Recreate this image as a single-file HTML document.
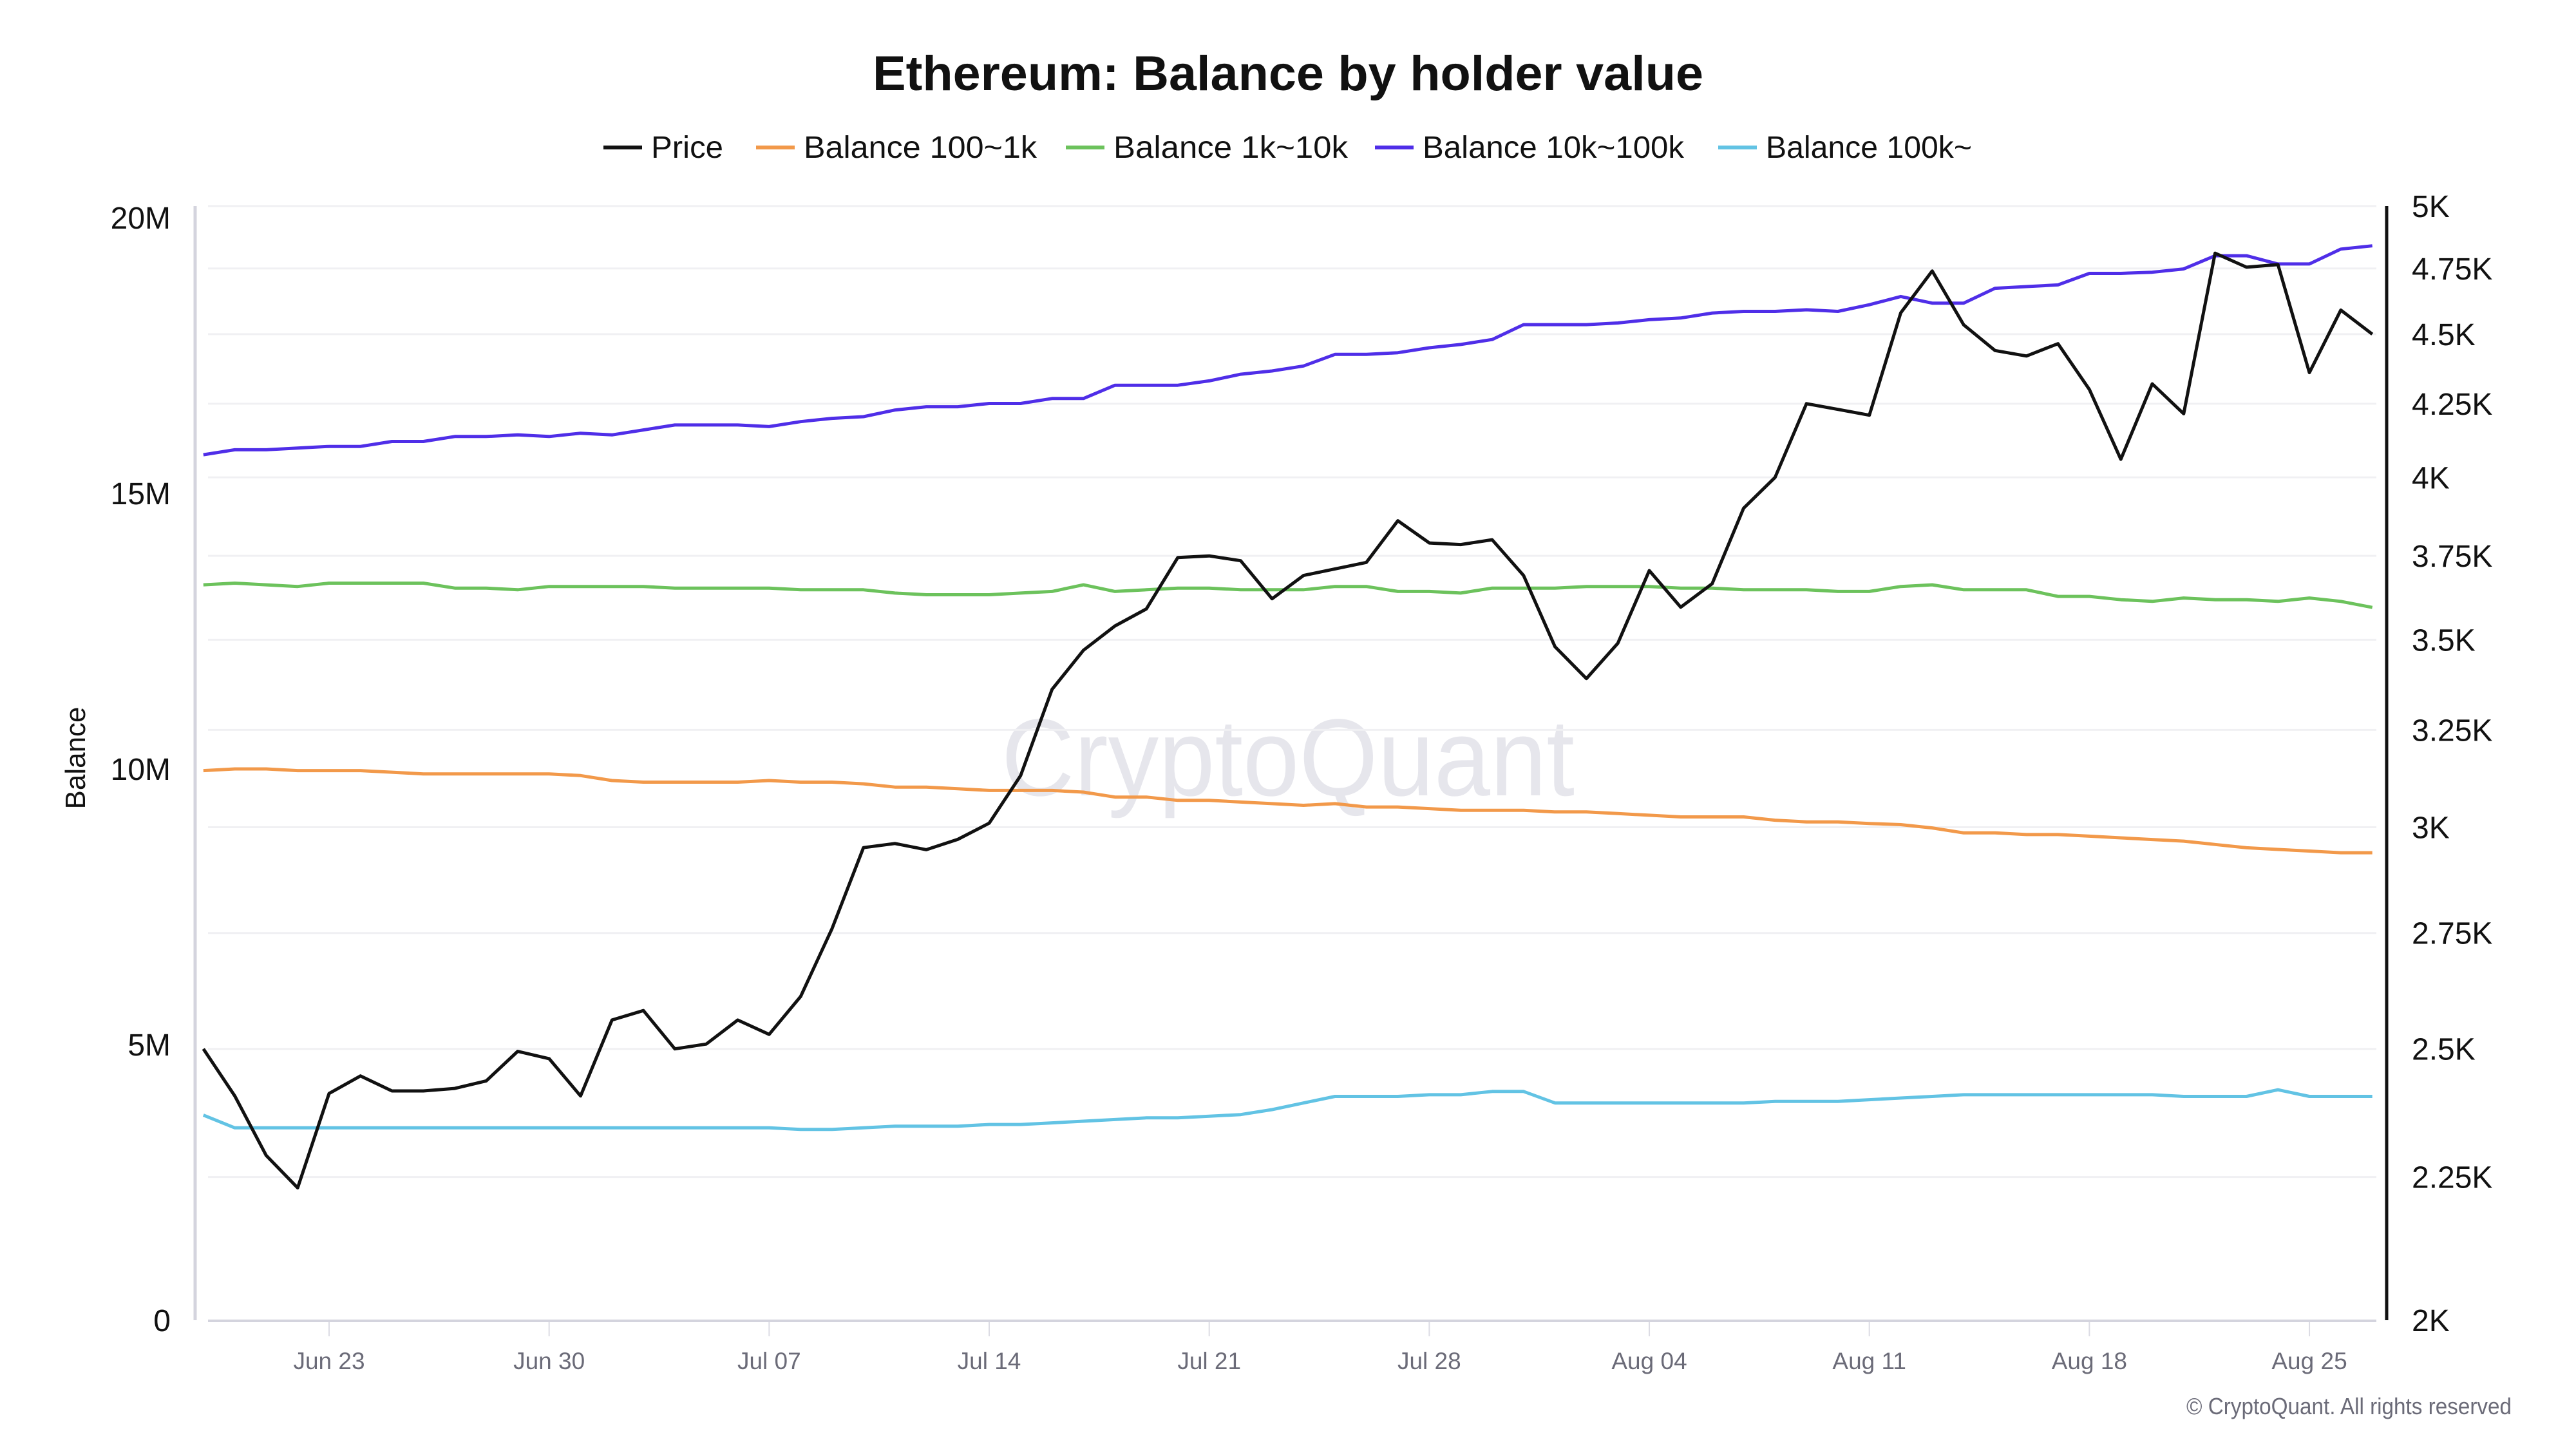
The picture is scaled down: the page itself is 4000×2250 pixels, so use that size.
<!DOCTYPE html>
<html><head><meta charset="utf-8"><title>Ethereum: Balance by holder value</title>
<style>
html,body{margin:0;padding:0;background:#fff;}
svg{display:block;font-family:"Liberation Sans",sans-serif;}
</style></head>
<body>
<svg id="chart" width="4000" height="2250" viewBox="0 0 4000 2250" xmlns="http://www.w3.org/2000/svg">
  <rect width="4000" height="2250" fill="#fff"/>
  <text x="2000" y="140" text-anchor="middle" font-size="76" font-weight="bold" fill="#111" textLength="1290" lengthAdjust="spacingAndGlyphs">Ethereum: Balance by holder value</text>
  <g id="legend"></g>
  <text x="2000" y="1235" text-anchor="middle" font-size="170" fill="#e6e6ec" textLength="890" lengthAdjust="spacingAndGlyphs">CryptoQuant</text>
  <g id="grid"></g>
  <g id="axes"></g>
  <g id="series"></g>
  <text transform="translate(132,1177) rotate(-90)" text-anchor="middle" font-size="44" fill="#111">Balance</text>
  <text x="3900" y="2196" text-anchor="end" font-size="36" fill="#6b6b78" textLength="505" lengthAdjust="spacingAndGlyphs">© CryptoQuant. All rights reserved</text>
</svg>
<script>
const dayCount = 70; // Jun 19 .. Aug 27
const xTickLabels = ["Jun 23","Jun 30","Jul 07","Jul 14","Jul 21","Jul 28","Aug 04","Aug 11","Aug 18","Aug 25"];
const xTickDays = [4,11,18,25,32,39,46,53,60,67];
const leftTickValues = [0,5,10,15,20];
const leftTickLabels = ["0","5M","10M","15M","20M"];
const rightTickValues = [2000,2250,2500,2750,3000,3250,3500,3750,4000,4250,4500,4750,5000];
const rightTickLabels = ["2K","2.25K","2.5K","2.75K","3K","3.25K","3.5K","3.75K","4K","4.25K","4.5K","4.75K","5K"];

const price = [2500,2405,2290,2230,2410,2445,2415,2415,2420,2435,
  2495,2480,2405,2560,2580,2500,2510,2560,2530,2610,
  2760,2950,2960,2945,2970,3010,3130,3360,3470,3540,
  3590,3745,3750,3735,3620,3690,3710,3730,3860,3790,
  3785,3800,3690,3480,3390,3490,3705,3595,3665,3900,
  4000,4250,4230,4210,4580,4740,4535,4440,4420,4465,
  4300,4060,4320,4215,4810,4755,4765,4360,4590,4500];
const bal100to1k = [9.97,10.0,10.0,9.97,9.97,9.97,9.94,9.91,9.91,9.91,
  9.91,9.91,9.88,9.79,9.76,9.76,9.76,9.76,9.79,9.76,
  9.76,9.73,9.67,9.67,9.64,9.61,9.61,9.61,9.58,9.49,
  9.49,9.43,9.43,9.40,9.37,9.34,9.37,9.31,9.31,9.28,
  9.25,9.25,9.25,9.22,9.22,9.19,9.16,9.13,9.13,9.13,
  9.07,9.04,9.04,9.01,8.99,8.93,8.84,8.84,8.81,8.81,
  8.78,8.75,8.72,8.69,8.63,8.57,8.54,8.51,8.48,8.48];
const bal1kto10k = [13.34,13.37,13.34,13.31,13.37,13.37,13.37,13.37,13.28,13.28,
  13.25,13.31,13.31,13.31,13.31,13.28,13.28,13.28,13.28,13.25,
  13.25,13.25,13.19,13.16,13.16,13.16,13.19,13.22,13.34,13.22,
  13.25,13.28,13.28,13.25,13.25,13.25,13.31,13.31,13.22,13.22,
  13.19,13.28,13.28,13.28,13.31,13.31,13.31,13.28,13.28,13.25,
  13.25,13.25,13.22,13.22,13.31,13.34,13.25,13.25,13.25,13.13,
  13.13,13.07,13.04,13.10,13.07,13.07,13.04,13.10,13.04,12.93];
const bal10kto100k = [15.70,15.79,15.79,15.82,15.85,15.85,15.94,15.94,16.03,16.03,
  16.06,16.03,16.09,16.06,16.15,16.24,16.24,16.24,16.21,16.30,
  16.36,16.39,16.51,16.57,16.57,16.63,16.63,16.72,16.72,16.96,
  16.96,16.96,17.04,17.16,17.22,17.31,17.52,17.52,17.55,17.64,
  17.70,17.79,18.06,18.06,18.06,18.09,18.15,18.18,18.27,18.30,
  18.30,18.33,18.30,18.42,18.57,18.45,18.45,18.72,18.75,18.78,
  18.99,18.99,19.01,19.07,19.31,19.31,19.16,19.16,19.43,19.49];
const bal100kPlus = [3.72,3.49,3.49,3.49,3.49,3.49,3.49,3.49,3.49,3.49,
  3.49,3.49,3.49,3.49,3.49,3.49,3.49,3.49,3.49,3.46,
  3.46,3.49,3.52,3.52,3.52,3.55,3.55,3.58,3.61,3.64,
  3.67,3.67,3.70,3.73,3.82,3.94,4.06,4.06,4.06,4.09,
  4.09,4.15,4.15,3.94,3.94,3.94,3.94,3.94,3.94,3.94,
  3.97,3.97,3.97,4.00,4.03,4.06,4.09,4.09,4.09,4.09,
  4.09,4.09,4.09,4.06,4.06,4.06,4.18,4.06,4.06,4.06];

const NS = "http://www.w3.org/2000/svg";
const plotTop = 320, plotBottom = 2050, plotLeft = 323, plotRight = 3690;
const leftAxisX = 303, rightAxisX = 3706;
const day0X = 511, dayW = 48.81, tickDay0 = 4;
function xScale(d){ return day0X + (d - tickDay0) * dayW; }
function yLeft(m){ return 2050 - m * 85.6; }
function yRight(p){ return plotBottom - Math.log(p/2000)/Math.log(2.5)*(plotBottom-plotTop); }
function mk(tag, attrs, parent){ const e=document.createElementNS(NS,tag); for(const k in attrs) e.setAttribute(k,attrs[k]); parent.appendChild(e); return e; }

const grid = document.getElementById('grid');
const axes = document.getElementById('axes');
const series = document.getElementById('series');
const legend = document.getElementById('legend');

rightTickValues.forEach((v,i)=>{
  const y = yRight(v);
  if (i>0){
    const g = mk('line',{x1:plotLeft,x2:plotRight,y1:y,y2:y,stroke:'#f0f0f3','stroke-width':3},grid);
    
    
  }
  const t = mk('text',{x:3745,y:y+17,'font-size':48,fill:'#111'},axes);
  t.textContent = rightTickLabels[i];
  
  
});
leftTickValues.forEach((v,i)=>{
  const t = mk('text',{x:265,y:yLeft(v)+17,'font-size':48,fill:'#111','text-anchor':'end'},axes);
  t.textContent = leftTickLabels[i];
  
  
});
xTickDays.forEach((d,i)=>{
  const x = xScale(d);
  const tk = mk('line',{x1:x,x2:x,y1:2053,y2:2075,stroke:'#dcdce4','stroke-width':2},axes);
  
  
  const t = mk('text',{x:x,y:2126,'font-size':37,fill:'#6b6b78','text-anchor':'middle'},axes);
  t.textContent = xTickLabels[i];
  
  
});
const la = mk('line',{x1:leftAxisX,x2:leftAxisX,y1:plotTop,y2:plotBottom,stroke:'#d4d4de','stroke-width':5},axes);


const ba = mk('line',{x1:plotLeft,x2:plotRight,y1:2051,y2:2051,stroke:'#d4d4de','stroke-width':4},axes);


const ra = mk('line',{x1:rightAxisX,x2:rightAxisX,y1:plotTop,y2:plotBottom,stroke:'#111','stroke-width':5},axes);



function drawLine(vals, yFn, color, name){
  const pts = vals.map((v,i)=> xScale(i).toFixed(1)+','+yFn(v).toFixed(1)).join(' ');
  const p = mk('polyline',{points:pts,fill:'none',stroke:color,'stroke-width':5,'stroke-linejoin':'round'},series);
  
  
}
drawLine(bal100kPlus, yLeft, '#62c3e4', 'line-balance-100k-plus');
drawLine(bal100to1k, yLeft, '#f2994a', 'line-balance-100-1k');
drawLine(bal1kto10k, yLeft, '#6cc25c', 'line-balance-1k-10k');
drawLine(bal10kto100k, yLeft, '#4f2ee8', 'line-balance-10k-100k');
drawLine(price, yRight, '#111111', 'line-price');

const legendLabels = ["Price","Balance 100~1k","Balance 1k~10k","Balance 10k~100k","Balance 100k~"];
const legendColors = ['#111111','#f2994a','#6cc25c','#4f2ee8','#62c3e4'];
const legendSwatchX = [937,1174,1655,2135,2668];
const legendTextW = [112,362,364,406,320];
legendLabels.forEach((lab,i)=>{
  const g = mk('g',{},legend);
  
  
  mk('line',{x1:legendSwatchX[i],x2:legendSwatchX[i]+60,y1:229,y2:229,stroke:legendColors[i],'stroke-width':6},g);
  const t = mk('text',{x:legendSwatchX[i]+74,y:245,'font-size':48,fill:'#111',textLength:legendTextW[i],lengthAdjust:'spacingAndGlyphs'},g);
  t.textContent = lab;
});
</script>
</body></html>
